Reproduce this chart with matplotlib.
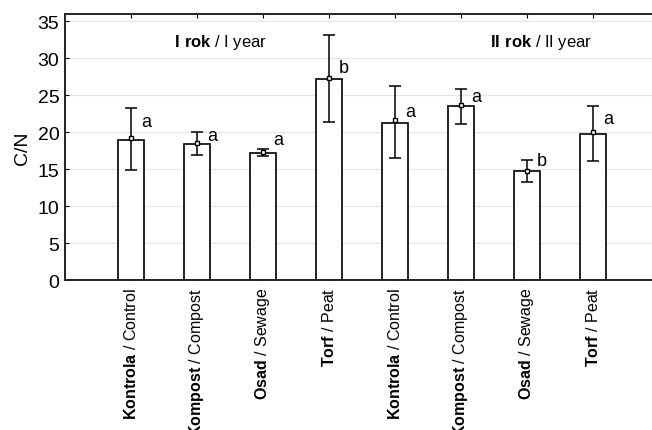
import matplotlib
matplotlib.use('Agg')
import matplotlib.pyplot as plt
import numpy as np

plt.rcParams['font.family'] = ['Liberation Sans', 'DejaVu Sans']
plt.rcParams['mathtext.fontset'] = 'custom'
plt.rcParams['mathtext.rm'] = 'Liberation Sans'
plt.rcParams['mathtext.bf'] = 'Liberation Sans:bold'

labels_pl = ["Kontrola", "Kompost", "Osad", "Torf",
             "Kontrola", "Kompost", "Osad", "Torf"]
labels_en = ["Control", "Compost", "Sewage", "Peat",
             "Control", "Compost", "Sewage", "Peat"]
bar_values = [19.0, 18.4, 17.2, 27.2, 21.3, 23.5, 14.7, 19.8]
means = [19.2, 18.5, 17.3, 27.4, 21.6, 23.7, 14.8, 20.0]
err_low = [14.9, 16.9, 16.8, 21.4, 16.5, 21.1, 13.2, 16.1]
err_high = [23.3, 20.0, 17.7, 33.2, 26.3, 25.9, 16.2, 23.5]
letters = ["a", "a", "a", "b", "a", "a", "b", "a"]
letter_y = [21.4, 19.6, 19.0, 28.8, 22.8, 24.8, 16.2, 21.9]
group_titles = [r"$\mathbf{I\ rok}$ / I year", r"$\mathbf{II\ rok}$ / II year"]

fig = plt.figure(figsize=(6.52, 4.31), dpi=100)
ax = fig.add_axes([65 / 652, 1 - 281 / 431, 594 / 652, 266 / 431])

x = np.arange(1, len(bar_values) + 1)
ax.bar(x, bar_values, width=0.38, color='white', edgecolor='black', linewidth=1.2, zorder=2)
means = np.array(means)
yerr = [means - np.array(err_low), np.array(err_high) - means]
ax.errorbar(x, means, yerr=yerr, fmt='s', color='black', markerfacecolor='white',
            markeredgecolor='black', markersize=3.5, capsize=4.3, elinewidth=1.1,
            capthick=1.1, zorder=3)

# significance letters next to each bar
for xi, ly, lt in zip(x, letter_y, letters):
    ax.text(xi + 0.15, ly, lt, fontsize=13, ha='left', va='center')

ax.text(2.35, 32.3, group_titles[0], fontsize=12, ha='center', va='center')
ax.text(7.22, 32.3, group_titles[1], fontsize=12, ha='center', va='center')

ax.set_xlim(0, 9)
ax.set_ylim(0, 36)
ax.set_yticks(np.arange(0, 36, 5))
ax.set_xticks(x)
ax.set_xticklabels([r"$\mathbf{%s}$ / %s" % (p, e) for p, e in zip(labels_pl, labels_en)],
                   rotation=90, fontsize=11.5)
ax.tick_params(axis='y', labelsize=14, direction='in', length=3, pad=4)
ax.tick_params(axis='x', direction='in', length=3, top=True, pad=5)
ax.set_ylabel("C/N", fontsize=14, labelpad=5)
ax.yaxis.grid(True, color='#e4e4e4', linewidth=0.8, zorder=0)
ax.set_axisbelow(True)
for side in ['left', 'bottom', 'top']:
    ax.spines[side].set_linewidth(1.4)
    ax.spines[side].set_color('#222222')
ax.spines['right'].set_visible(False)

fig.savefig('out.png', dpi=100)
